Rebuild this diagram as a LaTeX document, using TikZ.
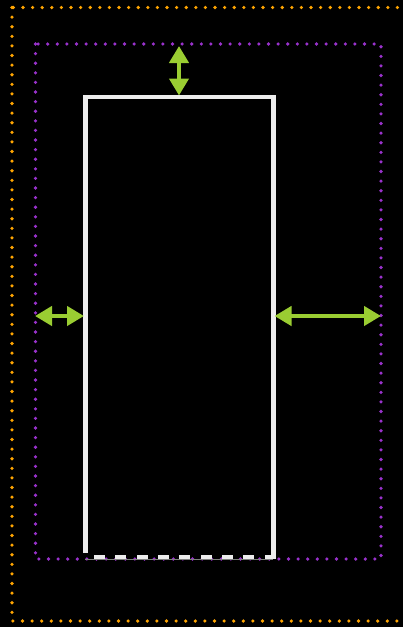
\documentclass[tikz,border=0pt]{standalone}
\usetikzlibrary{arrows.meta}
\definecolor{outerdot}{HTML}{FFA500}
\definecolor{innerdot}{HTML}{9932CC}
\definecolor{measure}{HTML}{9ACD32}
\begin{document}
\begin{tikzpicture}[x=1pt,y=-1pt,
  outerframe/.style={draw=outerdot,line width=3.6pt,line cap=round,dash pattern=on 0pt off 9.6pt},
  innerframe/.style={draw=innerdot,line width=3.6pt,line cap=round,dash pattern=on 0pt off 9.6pt},
  boxedge/.style={draw=white!93!black,line width=4.5pt},
  boxbase/.style={draw=white!93!black,line width=4pt,dash pattern=on 11pt off 10.3pt},
  gap/.style={draw=measure,line width=4.5pt,{Triangle[length=17pt,width=19pt]}-{Triangle[length=17pt,width=19pt]}}]
  % canvas
  \fill[black] (0,0) rectangle (403,627);
  \useasboundingbox (0,0) rectangle (403,627);
  % outer and inner dotted frames
  \draw[outerframe] (12,7.5) rectangle (412,621);
  \draw[innerframe] (35.5,44) rectangle (381,559);
  % box corners
  \coordinate (bl) at (85.5,553);
  \coordinate (tl) at (85.5,97);
  \coordinate (tr) at (273.5,97);
  \coordinate (br) at (273.5,559);
  \coordinate (brb) at (275.5,557);
  \coordinate (blb) at (85.5,557);
  % box: solid on three sides, dashed base
  \draw[boxedge,line join=miter] (bl) -- (tl) -- (tr) -- (br);
  \draw[gray,line width=0.6pt] (85,559.5) -- (273,559.5);
  \draw[boxbase] (brb) -- (blb);
  % spacing arrows
  \coordinate (ttop) at (179,46);
  \coordinate (tbot) at (179,95.5);
  \coordinate (lout) at (35,316);
  \coordinate (lin) at (84,316);
  \coordinate (rin) at (274.5,316);
  \coordinate (rout) at (381,316);
  \draw[gap] (ttop) -- (tbot);
  \draw[gap] (lout) -- (lin);
  \draw[gap] (rin) -- (rout);
\end{tikzpicture}
\end{document}
